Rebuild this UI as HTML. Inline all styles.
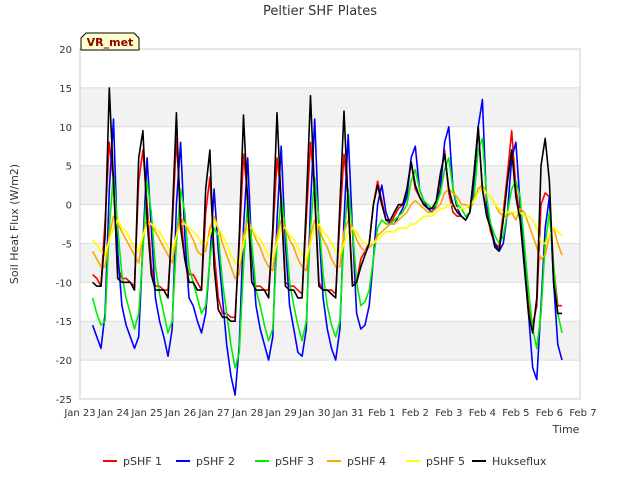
<!DOCTYPE html>
<html><head><meta charset="utf-8"><style>
body{margin:0;background:#fff;font-family:"Liberation Sans","DejaVu Sans",sans-serif;}
svg text{font-family:"DejaVu Sans","Liberation Sans",sans-serif;}
</style></head><body>
<svg id="chart" width="640" height="480" xmlns="http://www.w3.org/2000/svg">
<rect width="640" height="480" fill="#fff"/>
<text x="320" y="15" text-anchor="middle" font-size="13" fill="#333">Peltier SHF Plates</text>
<g id="bands"></g><g id="grid"></g>
<rect x="80" y="49" width="500" height="350" fill="none" stroke="#ccc"/>
<g id="yticks"></g><g id="xticks"></g><g id="series"></g>
<text transform="translate(18,224) rotate(-90)" text-anchor="middle" font-size="11" fill="#333">Soil Heat Flux (W/m2)</text>
<text x="566" y="433" text-anchor="middle" font-size="11" fill="#333">Time</text>
<g>
<path d="M81,50 L81,38 L86,33 L134,33 L139,38 L139,50 Z" fill="#ffffcc" stroke="#000"/>
<text x="110" y="46" text-anchor="middle" font-size="11" font-weight="bold" fill="#8b0000">VR_met</text>
</g>
<g id="legend"></g>
</svg>
<script>
const yTicks=[20,15,10,5,0,-5,-10,-15,-20,-25];
const xTickLabels=["Jan 23","Jan 24","Jan 25","Jan 26","Jan 27","Jan 28","Jan 29","Jan 30","Jan 31","Feb 1","Feb 2","Feb 3","Feb 4","Feb 5","Feb 6","Feb 7"];
const seriesNames=["pSHF 1","pSHF 2","pSHF 3","pSHF 4","pSHF 5","Hukseflux"];
const seriesColors=["#ff0000","#0000ff","#00ee00","#ffa500","#ffff00","#000000"];
const times=[];for(let k=0;k<=112;k++)times.push(0.375+k*0.125);
const red=[-9,-9.5,-10.5,-2,8,3,-8,-9.5, -9.5,-10,-10.5,3,7,0,-8,-10.5, -10.5,-11,-11,-3,8.5,-1,-7,-9, -9,-10,-11,-1,3.5,-6,-12,-14, -14,-14.5,-14.5,-5,6.5,1,-10,-10.5, -10.5,-11,-11,-4,6,1,-10,-10.5, -10.5,-11,-11.5,-2,8,2,-10,-11, -11,-11,-11.5,-2,6.5,1,-10,-10, -7,-6,-5,0,3,0.5,-2,-2.5, -1.5,-0.5,0,1.5,5.5,2,1,0, -0.5,-1,0,3.5,7,1.5,-1,-1.5, -1.5,-2,-1,4,10,2,-1,-3.5, -5,-5.5,-1,4,9.5,2,-1.5,-7, -13,-15.5,-13,0,1.5,1,-8,-13, -13];
const blue=[-15.5,-17,-18.5,-14,2,11,-6,-13, -15.5,-17,-18.5,-17,-5,6,-3,-12, -15,-17,-19.5,-16,0,8,-4,-12, -13,-15,-16.5,-14,-7,2,-6,-12, -18,-22,-24.5,-18,-3,6,-6,-13, -16,-18,-20,-17,-2,7.5,-5,-13, -16,-19,-19.5,-16,0,11,-3,-12, -16,-18.5,-20,-16,-2,9,-3,-14, -16,-15.5,-13,-7,0,2.5,-1,-2.5, -2.5,-1.5,-0.5,1,6,7.5,2,0.5, -0.5,-1,0,2,8,10,2,-0.5, -1.5,-2,-1,2,10,13.5,0,-3, -5,-6,-5,-1,6,8,0,-7, -14,-21,-22.5,-13,-3,1,-10,-18, -20];
const green=[-12,-14,-15.5,-15,-3,4,-3,-9, -12,-14,-16,-14,-6,3,-1,-8, -11.5,-14,-16.5,-15,-5,2,-1,-8, -10,-12,-14,-13,-7,-3,-4,-10, -14,-18,-21,-19,-8,0.5,-5,-11, -13,-15.5,-17.5,-16,-5,1,-3,-10, -13,-15.5,-17.5,-15,-3,3.5,-2,-9, -13,-15.5,-17,-15,-4,2,-3,-10, -13,-12.5,-11,-7,-3,-2,-2.5,-2.5, -2,-1.5,-1,0,3,4.5,2,0.5, 0,-0.5,0,1.5,4.5,6,2,0, -0.5,-1.5,-1,1,7,8.5,1,-2.5, -4,-5,-4,-1,2,3,1,-5, -11,-16,-18.5,-14,-5,-1,-8,-14, -16.5];
const orange=[-6,-7,-8,-8,-4,-1.5,-2.5,-3.5, -4.5,-5.5,-6.5,-7.5,-4,-2,-2.5,-3.5, -4.5,-5.5,-6.5,-7.5,-4,-1.5,-2.5,-3.5, -4.5,-6,-6.5,-6,-3,-1.5,-3,-5, -6.5,-8,-9.5,-9,-4,-2,-3,-4.5, -5.5,-7,-8,-8.5,-4,-2,-3,-4.5, -5.5,-7,-8,-8.5,-4,-2,-3,-4.5, -5.5,-7,-8,-8,-3.5,-2,-3,-4.5, -5.5,-6,-5.5,-5,-4,-3.5,-3,-2.5, -2.5,-2,-1.5,-1,0,0.5,0,-0.5, -1,-1,-0.5,0,1.5,2,1.5,1, 0,0,-0.5,0.5,2,2.5,1.5,1, 0,-1,-1.5,-1.5,-1,-2,-0.5,-1, -2.5,-4,-5.5,-7,-6.5,-4,-3,-5, -6.5];
const yellow=[-4.5,-5.2,-6,-6.5,-4.5,-3,-2,-3, -3.5,-4.5,-5.5,-6,-4,-2.5,-2.5,-3, -3.5,-4.5,-5.5,-6,-4,-2.5,-2.5,-3, -3.5,-4,-5,-5,-4,-2,-3,-4, -5,-6.5,-7.5,-7.5,-5,-3,-3,-4, -4.5,-5.5,-6.5,-7,-5,-3,-3,-4, -4.5,-5.5,-6.5,-7,-5,-3,-2.5,-3.5, -4,-5,-6,-6.5,-5,-3.5,-3,-3.5, -4.5,-5,-5,-5,-4.5,-4,-3.5,-3.5, -3.5,-3,-3,-3,-2.5,-2.5,-2,-1.5, -1.5,-1.5,-1,-0.5,-0.5,0,0,-0.5, -0.5,-0.5,0,0.5,1.5,2,1.5,1, 0,-0.5,-1,-1,-1,-1,-1,-1.5, -1.5,-2,-3,-5,-5,-4,-3,-3.5, -4];
const black=[-10,-10.5,-10.5,-4,15,3,-9.5,-10, -10,-10,-11,6,9.5,-2,-9,-11, -11,-11,-12,-2,11.8,-3,-7,-10, -10,-11,-11,2,7,-8,-13.5,-14.5, -14.5,-15,-15,-4,11.5,0,-10,-11, -11,-11,-12,-3,11.8,0,-10.5,-11, -11,-12,-12,0,14,1,-10.5,-11, -11,-11.5,-12,0,12,0,-10.5,-10, -8,-6.5,-5,0,2.5,0,-2,-2, -1,0,0,2,5.5,2.5,1,0, -0.5,-0.5,0.5,4,6.5,2,0,-1, -1.5,-2,-1,4,10,2,-1.5,-3, -5.5,-6,-2,3,7,1,-2,-8, -14,-16.5,-12,5,8.5,3,-10,-14, -14];
const seriesData=[red,blue,green,orange,yellow,black];
const NS="http://www.w3.org/2000/svg";
function X(t){return 80+t*33.53;}
function Y(v){return 49+(20-v)*350/45;}
function mk(tag,attrs,parent){const e=document.createElementNS(NS,tag);for(const k in attrs)e.setAttribute(k,attrs[k]);parent.appendChild(e);return e;}
const bands=document.getElementById('bands'),grid=document.getElementById('grid');
for(let i=0;i<yTicks.length-1;i++){
  if(i%2===1){const b=mk('rect',{x:80,y:Y(yTicks[i]),width:500,height:Y(yTicks[i+1])-Y(yTicks[i]),fill:'#f2f2f2'},bands);
  
  }
}
const yt=document.getElementById('yticks');
yTicks.forEach(v=>{
  const l=mk('line',{x1:80,x2:580,y1:Y(v),y2:Y(v),stroke:'#dddddd'},grid);
  
  
  const t=mk('text',{x:72,y:Y(v)+4,'text-anchor':'end','font-size':'10',fill:'#333'},yt);
  t.textContent=v;
  
  
});
const xt=document.getElementById('xticks');
xTickLabels.forEach((s,i)=>{
  const t=mk('text',{x:X(i),y:416,'text-anchor':'middle','font-size':'10',fill:'#333'},xt);
  t.textContent=s;
  
  
});
const sg=document.getElementById('series');
seriesData.forEach((arr,si)=>{
  const d=arr.map((v,i)=>(i?'L':'M')+X(times[i]).toFixed(1)+','+Y(v).toFixed(1)).join(' ');
  const p=mk('path',{d:d,fill:'none',stroke:seriesColors[si],'stroke-width':'1.6','stroke-linejoin':'round'},sg);
  
  
});
const lg=document.getElementById('legend');
const lx=[103,176,255,327,406,472];
seriesNames.forEach((n,i)=>{
  const g=mk('g',{},lg);
  
  
  mk('line',{x1:lx[i],x2:lx[i]+14,y1:461,y2:461,stroke:seriesColors[i],'stroke-width':'2'},g);
  const t=mk('text',{x:lx[i]+20,y:465,'font-size':'11',fill:'#333'},g);
  t.textContent=n;
});
</script>
</body></html>
